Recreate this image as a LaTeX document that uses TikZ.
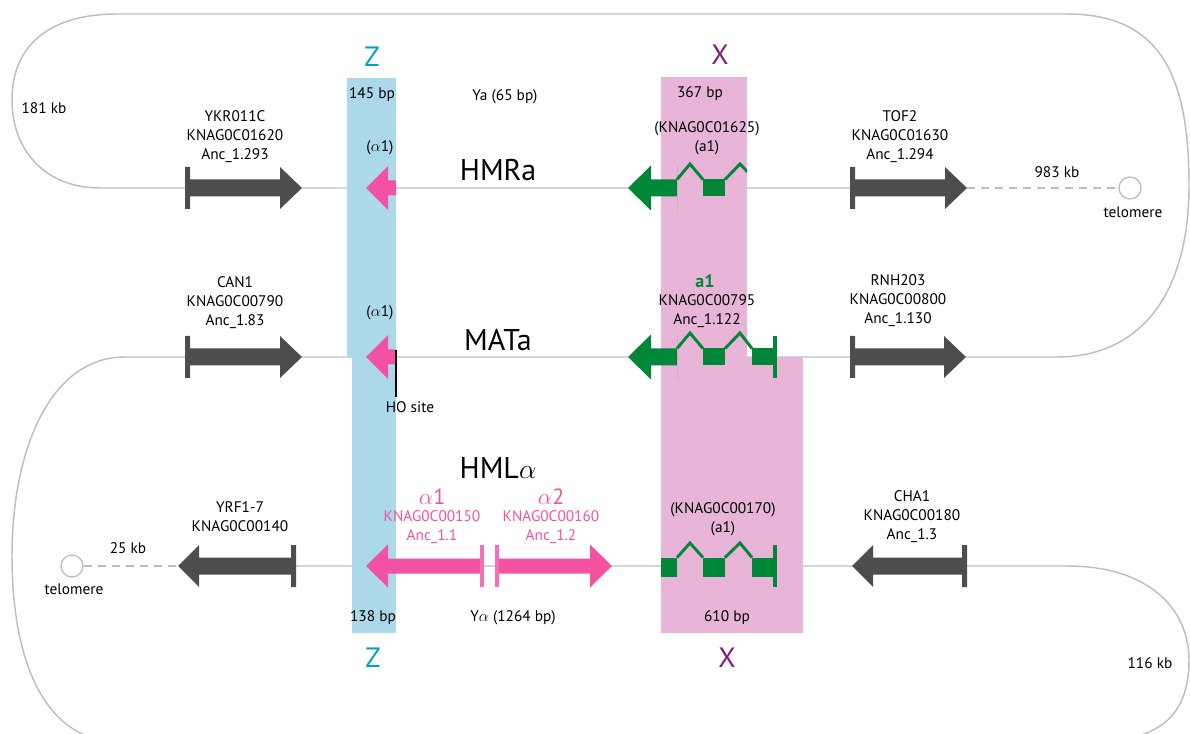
\documentclass[tikz,border=0pt]{standalone}
\usepackage{fontspec}
\setmainfont{PT Sans}
\definecolor{chromgray}{RGB}{190,190,190}
\definecolor{genegray}{RGB}{77,77,77}
\definecolor{zbox}{RGB}{171,217,233}
\definecolor{xbox}{RGB}{232,181,216}
\definecolor{zcol}{RGB}{0,160,200}
\definecolor{xcol}{RGB}{128,28,128}
\definecolor{agreen}{RGB}{0,135,55}
\definecolor{apink}{RGB}{243,82,163}
\definecolor{apinklight}{RGB}{241,112,182}

% Gene arrow: #1 outer bar edge, #2 inner bar edge, #3 head base, #4 tip,
% #5 row y, #6 half height of bar/head, #7 half height of shaft, #8 fill
\newcommand\GeneFill[8]{%
  \fill[#8] (#1,#5-#6) -- (#2,#5-#6) -- (#2,#5-#7) -- (#3,#5-#7) -- (#3,#5-#6)
    -- (#4,#5) -- (#3,#5+#6) -- (#3,#5+#7) -- (#2,#5+#7) -- (#2,#5+#6)
    -- (#1,#5+#6) -- cycle;}

\begin{document}
\begin{tikzpicture}[x=0.75pt,y=-0.75pt,
  chrom/.style={draw=chromgray,line width=1.1pt},
  dashchrom/.style={chrom,dash pattern=on 6pt off 4.5pt},
  lbl/.style={font=\fontsize{11.5}{14.25}\selectfont,align=center,inner sep=0pt},
  pinklbl/.style={lbl,text=apink},
  title/.style={font=\fontsize{22.5}{26}\selectfont,inner sep=0pt},
  region/.style={font=\fontsize{21}{24}\selectfont,inner sep=0pt},
  alabel/.style={font=\fontsize{16.5}{19}\selectfont,text=apink,inner sep=0pt},
  intron/.style={draw=agreen,line width=2.2pt,miter limit=4},
  telo/.style={circle,draw=chromgray,fill=white,line width=1pt,minimum size=16.5pt,inner sep=0pt}]
\useasboundingbox (0,0) rectangle (1190,734);
\clip (0,0) rectangle (1190,734);

% ---------- chromosome backbone ----------
\draw[chrom] (967,188) -- (100,188)
  .. controls (45,188) and (12,150) .. (12,100)
  .. controls (12,45) and (50,14) .. (117,14)
  -- (1067,14)
  .. controls (1160,14) and (1189,75) .. (1189,185)
  .. controls (1189,295) and (1140,357) .. (1057,357)
  -- (125,357)
  .. controls (50,357) and (12,450) .. (12,556)
  .. controls (12,662) and (45,742) .. (120,742)
  -- (1090,742)
  .. controls (1160,742) and (1189,715) .. (1189,660)
  .. controls (1189,610) and (1150,566) .. (1067,566)
  -- (296,566);

% ---------- Z and X regions ----------
\fill[zbox] (347,78) rectangle (396,357);
\fill[zbox] (352,357) rectangle (396,633);
\fill[xbox] (661,77) rectangle (747,357);
\fill[xbox] (661,357) rectangle (803,633);

% ---------- flanking genes ----------
\GeneFill{185}{190}{280}{302}{188}{21}{8.5}{genegray}
\GeneFill{185}{190}{280}{302}{357}{21}{8.5}{genegray}
\GeneFill{850}{855}{945}{967}{188}{21}{8.5}{genegray}
\GeneFill{850}{855}{944}{966}{357}{21}{8.5}{genegray}
\GeneFill{296}{291}{199}{178}{566}{21}{8.5}{genegray}
\GeneFill{967}{962}{873}{852}{566}{21}{8.5}{genegray}

% telomeres and the dashed stretches leading to them
\coordinate (tofend) at (967,188);
\coordinate (yrfend) at (178,566);
\node[telo] (tel1) at (1130,188) {};
\node[telo] (tel2) at (72,566) {};
\draw[dashchrom] (tofend) -- (tel1.west);
\draw[dashchrom] (tel2.east) -- (yrfend);

% ---------- alpha1 remnants in Z (HMR, MAT) ----------
\begin{scope}
  \clip (300,0) rectangle (396,734);
  \GeneFill{400}{400}{388}{366}{188}{22}{7.5}{apink}
  \GeneFill{400}{400}{388}{366}{357}{22}{7.5}{apink}
\end{scope}
% HO cut site
\coordinate (hotop) at (396,350);
\coordinate (hobot) at (396,397);
\draw[black,line width=1.5pt] (hotop) -- (hobot);

% ---------- HML alpha genes ----------
\GeneFill{480}{480}{388}{366}{566}{21.5}{7.5}{apink}
\fill[apinklight] (480,545) rectangle (484,587);
\GeneFill{499}{499}{590}{612}{566}{21.5}{7.5}{apink}
\fill[apinklight] (495,545) rectangle (499,587);

% ---------- a1 genes in X ----------
% HMR (truncated at the X border)
\begin{scope}
  \clip (600,0) rectangle (747,734);
  \GeneFill{677}{677}{651}{628}{188}{22.5}{8.5}{agreen}
  \fill[agreen] (703,179.5) rectangle (725,196.5);
  \draw[intron] (677,179.5) -- (690,164) -- (703,179.5);
  \draw[intron] (725,179.5) -- (740,164) -- (755,179.5);
\end{scope}
% MAT
\GeneFill{677}{677}{651}{628}{357}{22.5}{8.5}{agreen}
\fill[agreen] (703,348.5) rectangle (725,365.5);
\fill[agreen] (752,348.5) rectangle (773,365.5);
\fill[agreen] (773,336) rectangle (777,378);
\draw[intron] (677,348.5) -- (690,333) -- (703,348.5);
\draw[intron] (725,348.5) -- (740,333) -- (752,348.5);
% HML
\fill[agreen] (661,557.5) rectangle (677,576.5);
\fill[agreen] (703,557.5) rectangle (725,576.5);
\fill[agreen] (752,557.5) rectangle (773,576.5);
\fill[agreen] (773,545) rectangle (777,587);
\draw[intron] (677,557.5) -- (690,543) -- (703,557.5);
\draw[intron] (725,557.5) -- (740,543) -- (752,557.5);

% ---------- labels ----------
\node[lbl] (kb181) at (44,108) {181 kb};
\node[region,text=zcol] (ztop) at (372,57) {Z};
\node[region,text=xcol] (xtop) at (720,55) {X};
\node[lbl] (bp145) at (372,95) {145 bp};
\node[lbl] (ya) at (505,97) {Ya (65 bp)};
\node[lbl] (bp367) at (700,94) {367 bp};
\node[lbl] (lykr) at (235,137) {YKR011C\\KNAG0C01620\\Anc\_1.293};
\node[lbl] (alphahmr) at (380,148) {(\(\alpha\)1)};
\node[lbl] (knag1625) at (707,138.5) {(KNAG0C01625)\\(a1)};
\node[title] (hmra) at (498,170) {HMRa};
\node[lbl] (ltof) at (900,137) {TOF2\\KNAG0C01630\\Anc\_1.294};
\node[lbl] (kb983) at (1057,172) {983 kb};
\node[lbl] (tellab1) at (1133,212) {telomere};

\node[lbl] (lcan) at (235,303) {CAN1\\KNAG0C00790\\Anc\_1.83};
\node[lbl] (alphamat) at (380,313) {(\(\alpha\)1)};
\node[title] (mata) at (498,340) {MATa};
\node[font=\fontsize{13.5}{15}\selectfont\bfseries,text=agreen,inner sep=0pt] (a1mat) at (705,281) {a1};
\node[lbl] (lmat) at (707,311.5) {KNAG0C00795\\Anc\_1.122};
\node[lbl] (hosite) at (410,407) {HO site};
\node[lbl] (lrnh) at (898,301) {RNH203\\KNAG0C00800\\Anc\_1.130};

\node[title] (hmla) at (498,468) {HML\(\alpha\)};
\node[alabel] (alpha1) at (432,497) {\(\alpha\)1};
\node[pinklbl] (la1) at (432,527) {KNAG0C00150\\Anc\_1.1};
\node[alabel] (alpha2) at (551,497) {\(\alpha\)2};
\node[pinklbl] (la2) at (551,527) {KNAG0C00160\\Anc\_1.2};
\node[lbl] (knag170) at (723,519) {(KNAG0C00170)\\(a1)};
\node[lbl] (lyrf) at (240,516.5) {YRF1-7\\KNAG0C00140};
\node[lbl] (kb25) at (128,548) {25 kb};
\node[lbl] (tellab2) at (74,589) {telomere};
\node[lbl] (lcha) at (912,517) {CHA1\\KNAG0C00180\\Anc\_1.3};

\node[lbl] (bp138) at (373,618) {138 bp};
\node[lbl] (yalpha) at (513,618) {Y\(\alpha\) (1264 bp)};
\node[lbl] (bp610) at (727,618) {610 bp};
\node[region,text=zcol] (zbot) at (373,658) {Z};
\node[region,text=xcol] (xbot) at (727,658) {X};
\node[lbl] (kb116) at (1150,663) {116 kb};
\end{tikzpicture}
\end{document}
